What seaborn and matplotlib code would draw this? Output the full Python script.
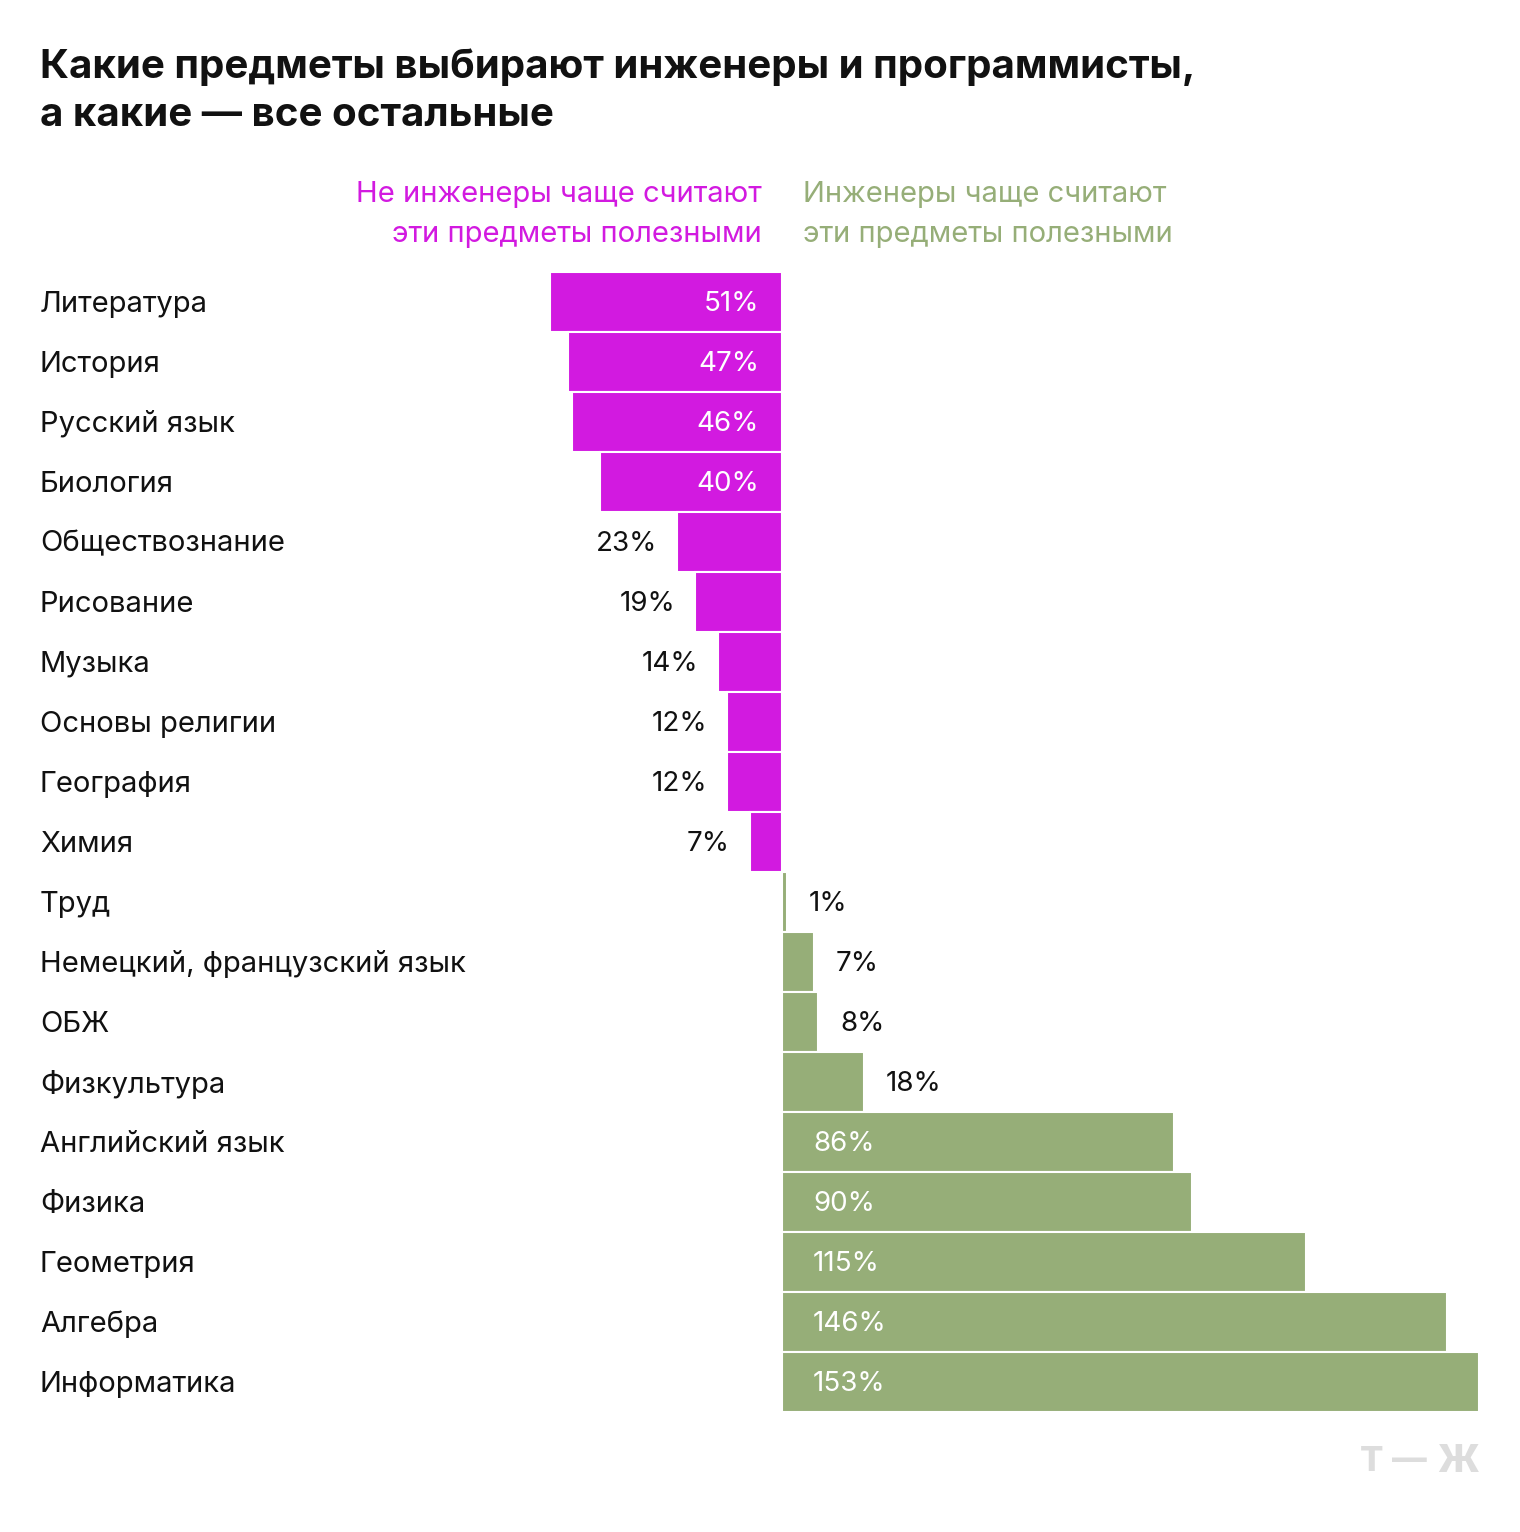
import matplotlib
matplotlib.use("Agg")
import matplotlib.pyplot as plt
import matplotlib.transforms as mtransforms
import seaborn as sns
import pandas as pd

# данные с картинки
subjects = ["Литература", "История", "Русский язык", "Биология", "Обществознание",
            "Рисование", "Музыка", "Основы религии", "География", "Химия",
            "Труд", "Немецкий, французский язык", "ОБЖ", "Физкультура",
            "Английский язык", "Физика", "Геометрия", "Алгебра", "Информатика"]
values = [-51, -47, -46, -40, -23, -19, -14, -12, -12, -7,
          1, 7, 8, 18, 86, 90, 115, 146, 153]
groups = ["non"] * 10 + ["eng"] * 9

MAGENTA = "#D21AE0"
GREEN = "#96AE78"

sns.set_theme(style="white")
plt.rcParams['font.family'] = ['Inter', 'DejaVu Sans']

W, H = 1520, 1532
fig = plt.figure(figsize=(W / 100, H / 100), dpi=100)

# ось с нулём на x=782px, 4.555 px на процент
px_per = 4.555
zero_px = 782
top_px, bot_px = 272, 1412
ax = fig.add_axes([0, 1 - bot_px / H, 1, (bot_px - top_px) / H])

df = pd.DataFrame({"subject": subjects, "value": values, "group": groups})
sns.barplot(data=df, x="value", y="subject", hue="group", orient="h",
            palette={"non": MAGENTA, "eng": GREEN}, saturation=1, width=1.0, dodge=False,
            edgecolor="white", linewidth=1.5, legend=False, ax=ax)

ax.set_xlim(-zero_px / px_per, (W - zero_px) / px_per)
ax.set_ylim(len(subjects) - 0.5, -0.5)
ax.axis("off")

FS = 21   # подписи категорий
VS = 20   # подписи значений
dy = 0.035  # небольшой сдвиг вниз, как на оригинале
lab_tr = mtransforms.blended_transform_factory(fig.transFigure, ax.transData)
for i, (s, v) in enumerate(zip(subjects, values)):
    ax.text(40 / W, i + dy, s, transform=lab_tr, ha="left", va="center",
            fontsize=FS, color="#111111")
    txt = f"{abs(v)}%"
    if v < 0:
        if abs(v) >= 40:
            ax.text(-23 / px_per, i + dy, txt, ha="right", va="center", fontsize=VS, color="white")
        else:
            ax.text(v - 20 / px_per, i + dy, txt, ha="right", va="center", fontsize=VS, color="#111111")
    else:
        if v >= 80:
            ax.text(31 / px_per, i + dy, txt, ha="left", va="center", fontsize=VS, color="white")
        else:
            ax.text(v + 22 / px_per, i + dy, txt, ha="left", va="center", fontsize=VS, color="#111111")

# заголовок
fig.text(40 / W, 1 - 48 / H, "Какие предметы выбирают инженеры и программисты,\nа какие — все остальные",
         ha="left", va="top", fontsize=29, fontweight="bold", color="#111111", linespacing=1.38)

# подписи сторон
fig.text(762 / W, 1 - 195 / H, "Не инженеры чаще считают", ha="right", va="center", fontsize=FS, color=MAGENTA)
fig.text(762 / W, 1 - 235 / H, "эти предметы полезными", ha="right", va="center", fontsize=FS, color=MAGENTA)
fig.text(803 / W, 1 - 195 / H, "Инженеры чаще считают", ha="left", va="center", fontsize=FS, color=GREEN)
fig.text(803 / W, 1 - 235 / H, "эти предметы полезными", ha="left", va="center", fontsize=FS, color=GREEN)

# логотип
LOGO = "#DDDDDD"
fig.text(1360 / W, 1 - 1462 / H, "Т", ha="left", va="center", fontsize=25, fontweight="heavy", color=LOGO)
fig.text(1409 / W, 1 - 1461 / H, "—", ha="center", va="center", fontsize=25, fontweight="heavy", color=LOGO)
fig.text(1479 / W, 1 - 1462 / H, "Ж", ha="right", va="center", fontsize=27, fontweight="heavy", color=LOGO)

fig.savefig("out.png", dpi=100, facecolor="white")
